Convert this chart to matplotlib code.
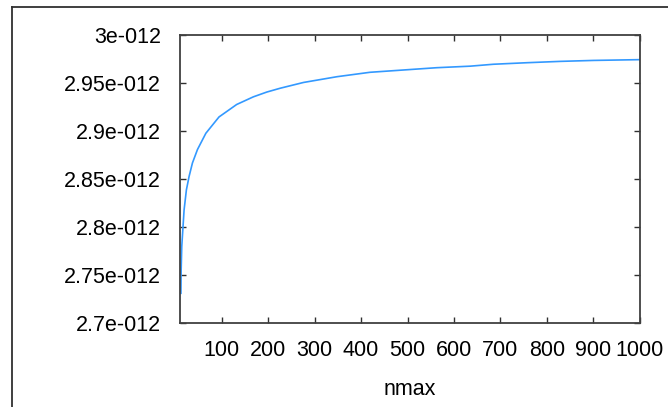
import matplotlib
matplotlib.use('Agg')
import matplotlib.pyplot as plt
from matplotlib.lines import Line2D

plt.rcParams['font.family'] = ['Liberation Sans', 'DejaVu Sans']

# values (nmax, result)
nmax = [12, 12.5, 13.8, 18.8, 23.8, 29.6, 36.8, 47.6, 65.7, 94, 132, 168, 197,
        226, 276, 348, 419, 491, 563, 635, 685, 757, 829, 901, 1000]
val = [2.731, 2.755, 2.780, 2.818, 2.839, 2.853, 2.867, 2.881, 2.898, 2.915,
       2.928, 2.936, 2.941, 2.945, 2.951, 2.957, 2.9616, 2.964, 2.9664, 2.968,
       2.970, 2.9716, 2.973, 2.974, 2.9748]
val = [v * 1e-12 for v in val]

yticks = [2.7e-12, 2.75e-12, 2.8e-12, 2.85e-12, 2.9e-12, 2.95e-12, 3e-12]
ylabels = ['2.7e-012', '2.75e-012', '2.8e-012', '2.85e-012', '2.9e-012', '2.95e-012', '3e-012']
xticks = [100, 200, 300, 400, 500, 600, 700, 800, 900, 1000]

W, H = 668, 407
fig = plt.figure(figsize=(W / 100, H / 100), dpi=100)
ax = fig.add_axes([180 / W, 1 - 323 / H, (639.7 - 180) / W, (323 - 35.5) / H])

ax.plot(nmax, val, color='#3399ff', lw=1.2)

ax.set_xlim(10, 1000)
ax.set_ylim(2.7e-12, 3e-12)
ax.set_xticks(xticks)
ax.set_xticklabels([str(t) for t in xticks])
ax.set_yticks(yticks)
ax.set_yticklabels(ylabels)
ax.tick_params(direction='in', length=4, width=1, color='#303030',
               top=True, right=True, labelsize=15.5, pad=12.5)
ax.tick_params(axis='y', pad=13.7)
for s in ax.spines.values():
    s.set_color('#404040')
    s.set_linewidth(1.3)
ax.set_xlabel('nmax', fontsize=15.5, labelpad=13)

# outer frame (left and top edges of the surrounding box)
fig.add_artist(Line2D([12 / W, 12 / W], [0, 1 - 7 / H], color='#303030', lw=1.3))
fig.add_artist(Line2D([12 / W, 1], [1 - 7 / H, 1 - 7 / H], color='#303030', lw=1.3))

fig.savefig('out.png', dpi=100)
